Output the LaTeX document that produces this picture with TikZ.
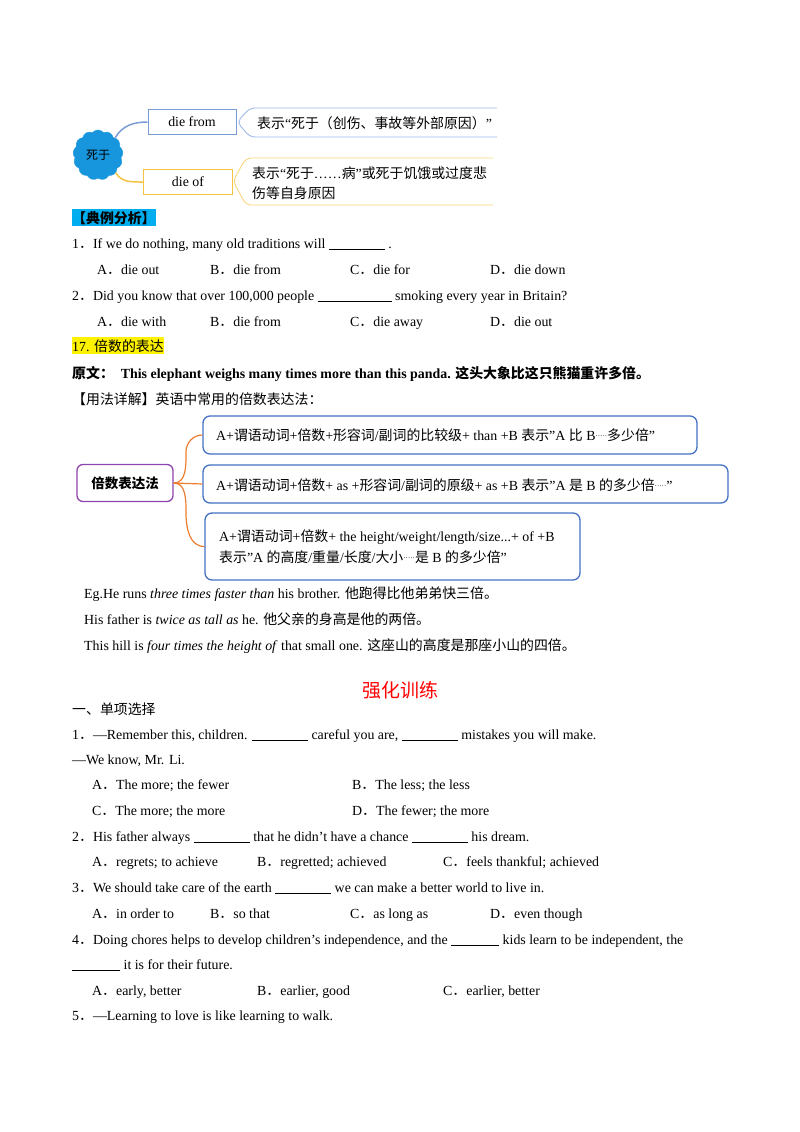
\documentclass[tikz,border=0pt]{standalone}
\usepackage{fontspec}
\setmainfont{Liberation Serif}
\newfontfamily\cjk{Noto Sans CJK SC}
\usetikzlibrary{shapes.symbols}
\newcommand{\zh}[1]{{\cjk #1}}
\newcommand{\blank}[1]{\rule[-1.5pt]{#1pt}{0.6pt}}
\newcommand{\dts}{\raisebox{2pt}{\scriptsize·····}}
\definecolor{mapblue}{HTML}{4472C4}
\definecolor{lightblue}{HTML}{9DB8E6}
\definecolor{mapyel}{HTML}{F5C342}
\definecolor{orangec}{HTML}{ED7D31}
\definecolor{purp}{HTML}{8E44AD}
\begin{document}
\begin{tikzpicture}[x=1pt,y=-1pt,
  every node/.style={inner sep=0pt,font=\fontsize{13.9}{17}\selectfont},
  tx/.style={anchor=base west},
  mbox/.style={draw=mapblue,rounded corners=7pt,line width=1.3pt}]
\useasboundingbox (0,0) rectangle (800,1132);
% ---- top map
\node[cloud,cloud puffs=13,cloud puff arc=100,fill={rgb,255:red,23;green,150;blue,222},draw={rgb,255:red,23;green,150;blue,222},minimum width=50pt,minimum height=50pt,font=\cjk\fontsize{12}{14}\selectfont] (cl) at (98,155) {死于};
\node[draw=mapblue!70,line width=1pt,minimum width=88pt,minimum height=25pt] (df) at (192,122) {die from};
\node[draw=mapyel,line width=1pt,minimum width=89pt,minimum height=25pt] (do) at (188,182) {die of};
\draw[mapblue!70,line width=1.5pt] (cl.north east) to[out=60,in=180] (df.west);
\draw[mapyel,line width=1.5pt] (cl.south east) to[out=-60,in=180] (do.west);
\draw[lightblue,line width=0.9pt,rounded corners=5pt] (497,108) -- (250,108) -- (237,122) -- (250,137) -- (497,137);
\draw[mapyel!70,line width=0.9pt,rounded corners=5pt] (493,158) -- (246,158) -- (233,181) -- (246,205) -- (493,205);
\node[tx] (t1) at (257,128) {\zh{表示}“\zh{死于（创伤、事故等外部原因）}”};
\node[tx] (t2) at (252,178) {\zh{表示}“\zh{死于}……\zh{病}”\zh{或死于饥饿或过度悲}};
\node[tx] (t3) at (252,198) {\zh{伤等自身原因}};
% ---- examples
\node[tx,fill=cyan,inner ysep=2pt] (h1) at (72,223) {\zh{\bfseries【典例分析】}};
\node[tx] at (72,248) {1\zh{．}If we do nothing, many old traditions will \blank{56} .};
\node[tx] at (97,274) {A\zh{．}die out};
\node[tx] at (210,274) {B\zh{．}die from};
\node[tx] at (350,274) {C\zh{．}die for};
\node[tx] at (490,274) {D\zh{．}die down};
\node[tx] at (72,300) {2\zh{．}Did you know that over 100,000 people \blank{74} smoking every year in Britain?};
\node[tx] at (97,326) {A\zh{．}die with};
\node[tx] at (210,326) {B\zh{．}die from};
\node[tx] at (350,326) {C\zh{．}die away};
\node[tx] at (490,326) {D\zh{．}die out};
\node[tx,fill=yellow,inner ysep=2pt] at (72,351) {17. \zh{倍数的表达}};
\node[tx] at (72,378) {\zh{\bfseries 原文：}\ \ \textbf{This elephant weighs many times more than this panda.} \zh{\bfseries 这头大象比这只熊猫重许多倍。}};
\node[tx] at (72,404) {\zh{【用法详解】英语中常用的倍数表达法：}};
% ---- second map
\node[draw=purp,line width=1.3pt,rounded corners=6pt,minimum width=96pt,minimum height=37pt,font=\cjk\bfseries\fontsize{13.5}{17}\selectfont] (c) at (125,483) {倍数表达法};
\node[mbox,minimum width=494pt,minimum height=38pt] (b1) at (450,435) {};
\node[mbox,minimum width=525pt,minimum height=38pt] (b2) at (465.5,484) {};
\node[mbox,minimum width=375pt,minimum height=67pt] (b3) at (392.5,546.5) {};
\node[tx] at (216,440) {A+\zh{谓语动词}+\zh{倍数}+\zh{形容词}/\zh{副词的比较级}+ than +B \zh{表示}"A \zh{比} B\dts\zh{多少倍}"};
\node[tx] at (216,490) {A+\zh{谓语动词}+\zh{倍数}+ as +\zh{形容词}/\zh{副词的原级}+ as +B \zh{表示}"A \zh{是} B \zh{的多少倍}\dts"};
\node[tx] at (219,541) {A+\zh{谓语动词}+\zh{倍数}+ the height/weight/length/size...+ of +B};
\node[tx] at (219,562) {\zh{表示}"A \zh{的高度}/\zh{重量}/\zh{长度}/\zh{大小}\dts\zh{是} B \zh{的多少倍}"};
\draw[orangec,line width=1.2pt] (c.east) to[out=0,in=-90] (186,452) to[out=90,in=180] (b1.west);
\draw[orangec,line width=1.2pt] (c.east) -- (b2.west);
\draw[orangec,line width=1.2pt] (c.east) to[out=0,in=90] (186,513) to[out=-90,in=180] (b3.west);
% ---- Eg lines
\node[tx] at (84,598) {Eg.He runs \textit{three times faster than} his brother. \zh{他跑得比他弟弟快三倍。}};
\node[tx] at (84,624) {His father is \textit{twice as tall as} he. \zh{他父亲的身高是他的两倍。}};
\node[tx] at (84,650) {This hill is \textit{four times the height of} that small one. \zh{这座山的高度是那座小山的四倍。}};
\node[text=red,font=\cjk\fontsize{19}{22}\selectfont] at (400,690) {强化训练};
\node[tx] at (72,714) {\zh{一、单项选择}};
\node[tx] at (72,739) {1\zh{．}—Remember this, children. \blank{56} careful you are, \blank{56} mistakes you will make.};
\node[tx] at (72,764) {—We know, Mr. Li.};
\node[tx] at (92,789) {A\zh{．}The more; the fewer};
\node[tx] at (352,789) {B\zh{．}The less; the less};
\node[tx] at (92,815) {C\zh{．}The more; the more};
\node[tx] at (352,815) {D\zh{．}The fewer; the more};
\node[tx] at (72,841) {2\zh{．}His father always \blank{56} that he didn’t have a chance \blank{56} his dream.};
\node[tx] at (92,866) {A\zh{．}regrets; to achieve};
\node[tx] at (257,866) {B\zh{．}regretted; achieved};
\node[tx] at (443,866) {C\zh{．}feels thankful; achieved};
\node[tx] at (72,892) {3\zh{．}We should take care of the earth \blank{56} we can make a better world to live in.};
\node[tx] at (92,918) {A\zh{．}in order to};
\node[tx] at (210,918) {B\zh{．}so that};
\node[tx] at (350,918) {C\zh{．}as long as};
\node[tx] at (490,918) {D\zh{．}even though};
\node[tx] at (72,944) {4\zh{．}Doing chores helps to develop children’s independence, and the \blank{48} kids learn to be independent, the};
\node[tx] at (72,969) {\blank{48} it is for their future.};
\node[tx] at (92,995) {A\zh{．}early, better};
\node[tx] at (257,995) {B\zh{．}earlier, good};
\node[tx] at (443,995) {C\zh{．}earlier, better};
\node[tx] at (72,1020) {5\zh{．}—Learning to love is like learning to walk.};
\end{tikzpicture}
\end{document}
